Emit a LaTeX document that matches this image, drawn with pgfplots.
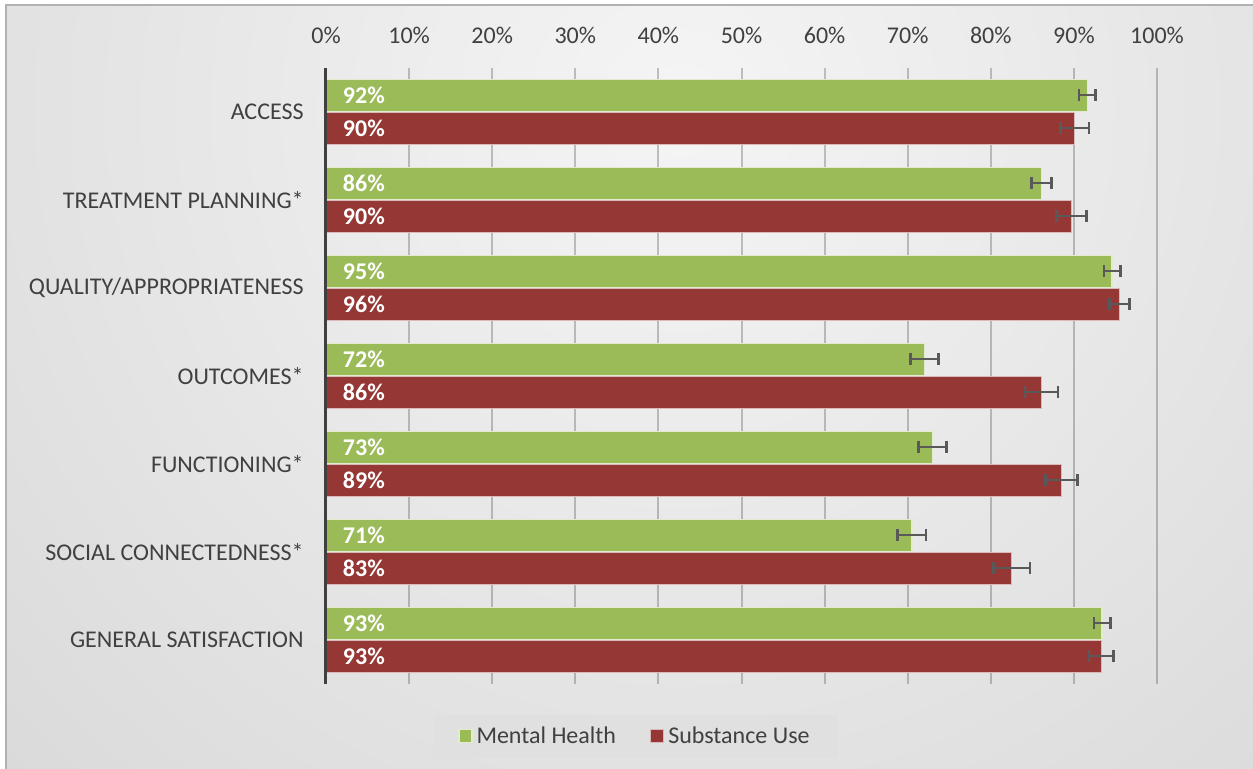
\documentclass[border=0pt]{standalone}
\usepackage{fontspec}
\setmainfont{Carlito}
\usepackage{pgfplots}
\pgfplotsset{compat=1.18}
\definecolor{mhgreen}{HTML}{9BBB59}
\definecolor{sured}{HTML}{953735}
\definecolor{txtgray}{HTML}{404040}
\definecolor{errgray}{HTML}{595959}
\definecolor{legfill}{HTML}{E0E0E0}
\newcommand\lbl{\fontsize{12}{14.4}\selectfont}

\begin{document}
\begin{tikzpicture}
\useasboundingbox (0,0) rectangle (626.5pt,-384.5pt);
\fill[white] (0,0) rectangle (626.5pt,-384.5pt);
% background panel with soft radial gradient
\begin{scope}
  \clip (3pt,-2.5pt) rectangle (626.5pt,-384.5pt);
  \shade[inner color=white!96!black, outer color=white!76!black] (340pt,-55pt) circle (900pt);
\end{scope}
\draw[white!70!black, line width=0.6pt] (3pt,-384.5pt) -- (3pt,-2.5pt) -- (626.5pt,-2.5pt);

\begin{axis}[
  at={(163pt,-34pt)}, anchor=north west,
  scale only axis,
  width=415.5pt, height=308pt,
  xmin=0, xmax=100,
  ymin=-0.5, ymax=6.5,
  xtick={0,10,...,100},
  xticklabels={0\%,10\%,20\%,30\%,40\%,50\%,60\%,70\%,80\%,90\%,100\%},
  xticklabel pos=upper,
  ytick={0,...,6},
  yticklabels={GENERAL SATISFACTION, SOCIAL CONNECTEDNESS*, FUNCTIONING*,
    OUTCOMES*, QUALITY/APPROPRIATENESS, TREATMENT PLANNING*, ACCESS},
  major tick length=0pt,
  axis line style={draw=none},
  xmajorgrids,
  major grid style={black, opacity=0.22, line width=1pt},
  tick label style={font=\lbl, text=txtgray},
  xticklabel style={anchor=center, yshift=16.5pt},
  yticklabel style={anchor=east, inner sep=0pt, xshift=-11pt},
  legend style={
    at={(0.373,-0.085)}, anchor=center,
    legend columns=2,
    draw=none, fill=legfill,
    font=\lbl, text=txtgray,
    inner xsep=12pt, inner ysep=4pt,
    /tikz/every even column/.append style={column sep=15pt},
  },
  legend image code/.code={
    \draw[#1, line width=0.6pt] (0pt,-3.25pt) rectangle (6.5pt,3.25pt);
  },
  clip=false,
]

% Mental Health
\addplot[xbar, bar width=16pt, bar shift=0pt, fill=mhgreen,
  draw=white!70!mhgreen, line width=0.7pt,
  error bars/.cd, x dir=both, x explicit,
  error bar style={errgray, line width=1pt},
  error mark options={errgray, rotate=90, mark size=3pt, line width=1.3pt}]
  coordinates {
    (91.6,6.1875) +- (1.0,0)
    (86.1,5.1875) +- (1.2,0)
    (94.6,4.1875) +- (1.0,0)
    (72.0,3.1875) +- (1.7,0)
    (73.0,2.1875) +- (1.7,0)
    (70.5,1.1875) +- (1.7,0)
    (93.4,0.1875) +- (1.0,0)
  };
\addlegendentry{Mental Health}

% Substance Use
\addplot[xbar, bar width=16pt, bar shift=0pt, fill=sured,
  draw=white!65!sured, line width=0.7pt,
  error bars/.cd, x dir=both, x explicit,
  error bar style={errgray, line width=1pt},
  error mark options={errgray, rotate=90, mark size=3pt, line width=1.3pt}]
  coordinates {
    (90.1,5.8125) +- (1.7,0)
    (89.7,4.8125) +- (1.8,0)
    (95.5,3.8125) +- (1.2,0)
    (86.1,2.8125) +- (2.0,0)
    (88.5,1.8125) +- (1.9,0)
    (82.5,0.8125) +- (2.2,0)
    (93.3,-0.1875) +- (1.5,0)
  };
\addlegendentry{Substance Use}

% value labels inside the bars
\addplot[draw=none, mark=none, forget plot,
  nodes near coords, point meta=explicit symbolic,
  nodes near coords style={anchor=west, inner sep=0pt, xshift=8.3pt,
    text=white, font=\bfseries\lbl}]
  coordinates {
    (0,6.1875) [92\%] (0,5.8125) [90\%]
    (0,5.1875) [86\%] (0,4.8125) [90\%]
    (0,4.1875) [95\%] (0,3.8125) [96\%]
    (0,3.1875) [72\%] (0,2.8125) [86\%]
    (0,2.1875) [73\%] (0,1.8125) [89\%]
    (0,1.1875) [71\%] (0,0.8125) [83\%]
    (0,0.1875) [93\%] (0,-0.1875) [93\%]
  };

% vertical category axis line
\draw[txtgray, line width=1.5pt] (rel axis cs:0,0) -- (rel axis cs:0,1);
\end{axis}
\end{tikzpicture}
\end{document}
